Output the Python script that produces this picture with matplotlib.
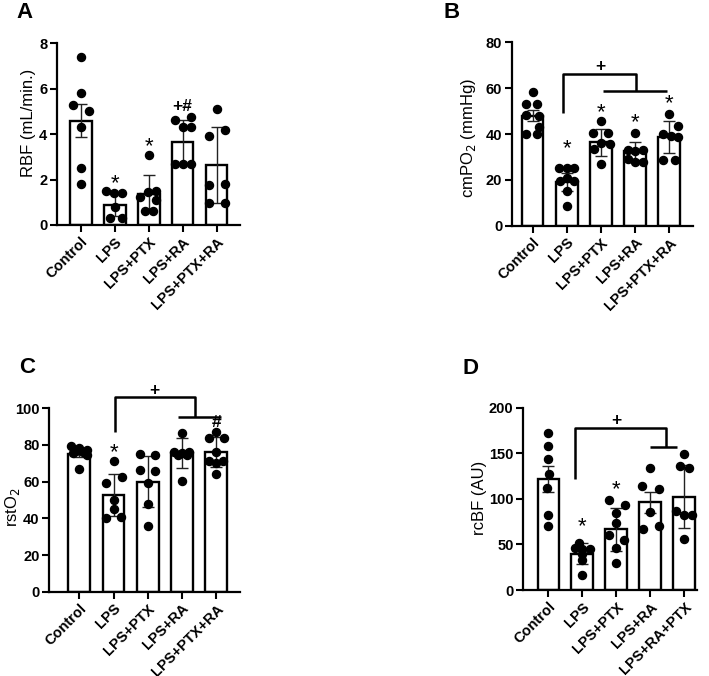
import matplotlib
matplotlib.use('Agg')
import matplotlib.pyplot as plt

plt.rcParams['font.family'] = ['Liberation Sans', 'DejaVu Sans']

groups = ['Control', 'LPS', 'LPS+PTX', 'LPS+RA', 'LPS+PTX+RA']
groups_d = ['Control', 'LPS', 'LPS+PTX', 'LPS+RA', 'LPS+RA+PTX']

# A - RBF
rbf_mean = [4.6, 0.88, 1.38, 3.67, 2.64]
rbf_err = [0.73, 0.5, 0.82, 0.97, 1.69]
rbf_pts = [[7.4, 5.8, 5.3, 5.0, 4.3, 2.5, 1.8],
           [1.5, 1.4, 1.4, 0.8, 0.3, 0.3],
           [3.1, 1.5, 1.45, 1.25, 1.1, 0.6, 0.6],
           [4.62, 4.74, 4.3, 4.3, 2.69, 2.69, 2.69],
           [5.1, 3.9, 4.18, 1.76, 1.8, 0.98, 0.98]]
rbf_jit = [[0, 0, -0.22, 0.25, 0, 0, 0],
           [-0.25, -0.03, 0.22, 0, -0.15, 0.22],
           [0, 0.22, -0.02, -0.25, 0.22, -0.12, 0.12],
           [-0.22, 0.24, 0, 0.24, -0.22, 0, 0.24],
           [0.02, -0.22, 0.25, -0.22, 0.25, -0.22, 0.25]]

# B - cmPO2
po2_mean = [48, 19.2, 36.4, 32.7, 38.5]
po2_err = [2.5, 4, 5.9, 3.9, 7]
po2_pts = [[58.3, 53.2, 53.2, 48.5, 48.0, 43.0, 39.8, 39.8],
           [25, 25, 25, 21, 19.5, 19.5, 15, 8.5],
           [45.8, 40.3, 40.3, 36, 35.5, 33.5, 27],
           [40.5, 33, 32.5, 33, 29, 28, 28],
           [48.7, 43.5, 40, 39, 38.8, 28.7, 28.7]]
po2_jit = [[0, -0.2, 0.12, -0.2, 0.2, 0.18, -0.18, 0.12],
           [-0.22, 0, 0.22, 0, -0.2, 0.22, 0, 0],
           [0, -0.22, 0.2, 0, 0.25, -0.2, 0],
           [0, -0.22, 0, 0.22, -0.22, 0.22, 0],
           [0, 0.25, -0.2, 0.05, 0.25, -0.2, 0.15]]

# C - rstO2
sto2_mean = [74.9, 52.7, 60, 75.5, 76]
sto2_err = [1.5, 11.5, 14, 8.3, 8.2]
sto2_pts = [[79.5, 78.5, 77, 76.5, 76, 75.5, 74.5, 67],
            [71.5, 62.3, 59, 50, 45, 40, 40.5],
            [75, 74.5, 66.5, 66, 59.5, 48, 36],
            [86.4, 76.4, 75.5, 76.4, 74.5, 74.5, 60.5],
            [87, 84, 84, 76, 71, 70, 71, 64]]
sto2_jit = [[-0.25, 0, 0.22, -0.1, 0.12, -0.2, 0.22, 0],
            [0, 0.25, -0.22, 0, 0, -0.22, 0.22],
            [-0.22, 0.22, -0.22, 0.22, 0, 0, 0],
            [0, -0.22, 0, 0.22, -0.12, 0.15, 0],
            [0, -0.22, 0.22, 0, -0.2, 0, 0.2, 0]]

# D - rcBF
cbf_mean = [121.5, 40, 66.5, 96, 102.5]
cbf_err = [14, 12, 24, 11, 35]
cbf_pts = [[172.5, 158, 144, 127, 112, 82, 70],
           [52, 46, 45, 45, 40, 33, 16],
           [98.5, 93.5, 84, 74, 60, 55, 46, 30],
           [134, 114, 111, 86, 67, 70],
           [149, 135.5, 133.5, 87, 82.5, 82.5, 56]]
cbf_jit = [[0, 0, 0, 0.03, -0.05, 0, 0],
           [-0.1, -0.22, 0, 0.22, 0, 0, 0],
           [-0.22, 0.25, 0, 0, -0.22, 0.22, 0, 0],
           [0, -0.25, 0.25, 0, -0.22, 0.25],
           [0, -0.12, 0.13, -0.24, 0.22, 0, 0]]

W, H = 709, 676
fig = plt.figure(figsize=(W / 100, H / 100), dpi=100)


def make_axes(x0, x1, ytop, ybot):
    return fig.add_axes([x0 / W, 1 - ybot / H, (x1 - x0) / W, (ybot - ytop) / H])


def panel(ax, labels, means, errs, pts, jit, xlim, ylim, yticks):
    x = range(len(labels))
    ax.bar(x, means, width=0.64, color='white', edgecolor='black', linewidth=1.7, zorder=1)
    ax.errorbar(x, means, yerr=errs, fmt='none', ecolor='#222222', elinewidth=1.0,
                capsize=4.3, capthick=1.0, zorder=2)
    for i, (vals, offs) in enumerate(zip(pts, jit)):
        ax.plot([i + o for o in offs], vals, 'o', color='black', markersize=5.8,
                zorder=3, clip_on=False)
    ax.set_xlim(*xlim)
    ax.set_ylim(*ylim)
    ax.set_yticks(yticks)
    ax.set_xticks(list(x))
    ax.set_xticklabels(labels, rotation=45, ha='right', rotation_mode='anchor')
    for s in ['top', 'right']:
        ax.spines[s].set_visible(False)
    for s in ['left', 'bottom']:
        ax.spines[s].set_linewidth(1.6)
    ax.tick_params(length=5, width=1.5, labelsize=10.5, pad=2)
    for t in ax.get_xticklabels() + ax.get_yticklabels():
        t.set_fontweight('bold')


def marks(ax, items):
    for xx, yy, txt in items:
        if txt == '*':
            ax.text(xx, yy, txt, ha='center', va='center', fontsize=16, clip_on=False)
        else:
            ax.text(xx, yy, txt, ha='center', va='center', fontsize=12.5,
                    fontweight='bold', clip_on=False)


def bracket(ax, segs):
    for xs, ys in segs:
        ax.plot(xs, ys, color='black', lw=1.8, clip_on=False, solid_capstyle='butt')


axA = make_axes(57, 240, 43.3, 225)
panel(axA, groups, rbf_mean, rbf_err, rbf_pts, rbf_jit, (-0.7, 4.69), (0, 8), [0, 2, 4, 6, 8])
marks(axA, [(1, 1.8, '*'), (2, 3.45, '*'), (3, 5.2, '+#')])

axB = make_axes(512, 693, 42.3, 225.7)
panel(axB, groups, po2_mean, po2_err, po2_pts, po2_jit, (-0.6, 4.69), (0, 80), [0, 20, 40, 60, 80])
marks(axB, [(1, 33.5, '*'), (2, 49.5, '*'), (3, 44.8, '*'), (4, 53.1, '*'), (1.97, 69.4, '+')])
bracket(axB, [([0.88, 0.88, 3.03, 3.03], [49, 66.2, 66.2, 58.9]), ([2.07, 3.94], [58.9, 58.9])])

axC = make_axes(49.3, 240, 408.3, 591.7)
panel(axC, groups, sto2_mean, sto2_err, sto2_pts, sto2_jit, (-0.88, 4.7), (0, 100), [0, 20, 40, 60, 80, 100])
marks(axC, [(1, 76, '*'), (4, 92.2, '#'), (2.18, 109.6, '+')])
bracket(axC, [([1.03, 1.03, 3.37, 3.37], [87.3, 106.4, 106.4, 95.1]), ([2.88, 4.14], [95.1, 95.1])])

axD = make_axes(523.3, 697, 407.7, 590)
panel(axD, groups_d, cbf_mean, cbf_err, cbf_pts, cbf_jit, (-0.74, 4.38), (0, 200), [0, 50, 100, 150, 200])
marks(axD, [(1, 69, '*'), (2, 110, '*'), (2.0, 185.8, '+')])
bracket(axD, [([0.79, 0.79, 3.47, 3.47], [121.9, 178.1, 178.1, 156.6]), ([3.0, 3.8], [156.6, 156.6])])

# y labels and panel letters, in pixel positions
ylabels = [(28, 123, 'RBF (mL/min.)'), (468, 138, 'cmPO$_2$ (mmHg)'),
           (12, 507, 'rstO$_2$'), (480, 498, 'rcBF (AU)')]
for px, py, txt in ylabels:
    fig.text(px / W, 1 - py / H, txt, rotation=90, ha='center', va='center', fontsize=12)

for px, py, txt in [(24, 13, 'A'), (452, 13, 'B'), (27, 367, 'C'), (471, 368, 'D')]:
    fig.text(px / W, 1 - py / H, txt, ha='center', va='center', fontsize=16, fontweight='bold')

fig.savefig('out.png', dpi=100)
